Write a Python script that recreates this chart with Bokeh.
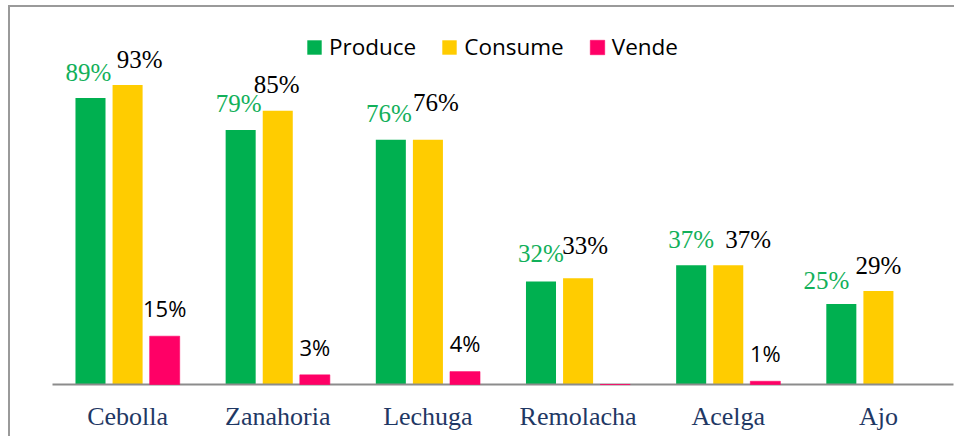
from bokeh.plotting import figure
from bokeh.models import ColumnDataSource, LabelSet, Legend, LegendItem, FactorRange, Range1d
from bokeh.transform import dodge
from bokeh.core.properties import value
from bokeh.embed import file_html
from bokeh.resources import INLINE

# ---- data ----
categories = ["Cebolla", "Zanahoria", "Lechuga", "Remolacha", "Acelga", "Ajo"]
produce = [89, 79, 76, 32, 37, 25]
consume = [93, 85, 76, 33, 37, 29]
vende = [15, 3, 4, 0, 1, float("nan")]
series_names = ["Produce", "Consume", "Vende"]

# ---- label nudges (pixels, layout only) ----
produce_dx = [-2, -2, -2, 0, 0, -15]
produce_dy = [17, 18, 18, 19, 17, 15]
consume_dx = [12, -1, 8, 7, 20, 0]
consume_dy = [17, 18, 29, 24, 17, 17]
vende_dy = [19, 19, 20, 19, 19, 19]

GREEN = "#00B050"
YELLOW = "#FFCC00"
PINK = "#FF0066"


def lab(vals):
    out = []
    for v in vals:
        if v != v or v == 0:
            out.append("")
        else:
            out.append(f"{v:g}%")
    return out


src = ColumnDataSource(dict(
    cat=categories,
    produce=produce,
    consume=consume,
    vende=vende,
    produce_lab=lab(produce),
    consume_lab=lab(consume),
    vende_lab=lab(vende),
    produce_dx=produce_dx,
    produce_dy=produce_dy,
    consume_dx=consume_dx,
    consume_dy=consume_dy,
    vende_dy=vende_dy,
    vende_lbl_y=[0 if v != v else v for v in vende],
))

p = figure(
    x_range=FactorRange(factors=categories),
    y_range=Range1d(0, 116.15),
    width=946, height=431,
    output_backend="svg", toolbar_location=None,
    min_border_left=42, min_border_right=3,
    min_border_top=3, min_border_bottom=54,
    y_axis_location=None,
)
p.styles = {"margin-left": "8px", "margin-top": "5px",
            "border-left": "2px solid #9a9a9a", "border-top": "2px solid #9a9a9a"}
p.xgrid.visible = False
p.ygrid.visible = False
p.outline_line_color = None
p.background_fill_color = "white"
p.border_fill_color = "white"

OFF = 0.247
W = 0.2
r1 = p.vbar(x=dodge("cat", -OFF, range=p.x_range), top="produce", width=W, source=src,
            fill_color=GREEN, line_color=None)
r2 = p.vbar(x=dodge("cat", 0, range=p.x_range), top="consume", width=W, source=src,
            fill_color=YELLOW, line_color=None)
r3 = p.vbar(x=dodge("cat", OFF, range=p.x_range), top="vende", width=W, source=src,
            fill_color=PINK, line_color=PINK, line_alpha=0.6)
r3.level = "overlay"

p.add_layout(LabelSet(x=dodge("cat", -OFF, range=p.x_range), y="produce", text="produce_lab",
                      x_offset="produce_dx", y_offset="produce_dy", source=src,
                      text_align="center", text_baseline="alphabetic",
                      text_font=value("Liberation Serif"), text_font_size="25px",
                      text_color="#12b05a"))
p.add_layout(LabelSet(x=dodge("cat", 0, range=p.x_range), y="consume", text="consume_lab",
                      x_offset="consume_dx", y_offset="consume_dy", source=src,
                      text_align="center", text_baseline="alphabetic",
                      text_font=value("Liberation Serif"), text_font_size="25px",
                      text_color="#000000"))
p.add_layout(LabelSet(x=dodge("cat", OFF, range=p.x_range), y="vende_lbl_y", text="vende_lab",
                      y_offset="vende_dy", source=src,
                      text_align="center", text_baseline="alphabetic",
                      text_font=value("Open Sans"), text_font_size="22px",
                      text_color="#000000"))

ax = p.xaxis[0]
ax.axis_line_color = "#8c8c8c"
ax.axis_line_width = 2
ax.major_tick_line_color = None
ax.minor_tick_line_color = None
ax.major_label_standoff = 11
ax.major_label_text_font = "Liberation Serif"
ax.major_label_text_font_size = "26px"
ax.major_label_text_color = "#1f3864"

legend = Legend(
    items=[LegendItem(label=series_names[0], renderers=[r1]),
           LegendItem(label=series_names[1], renderers=[r2]),
           LegendItem(label=series_names[2], renderers=[r3])],
    location=(253, 322), orientation="horizontal",
    border_line_color=None, background_fill_alpha=0,
    padding=0, margin=0, spacing=24, label_standoff=6,
    glyph_width=18, glyph_height=18,
    label_text_font="Open Sans", label_text_font_size="22.5px", label_text_color="#000000",
)
p.add_layout(legend)

open("out.html", "w").write(file_html(p, INLINE))
